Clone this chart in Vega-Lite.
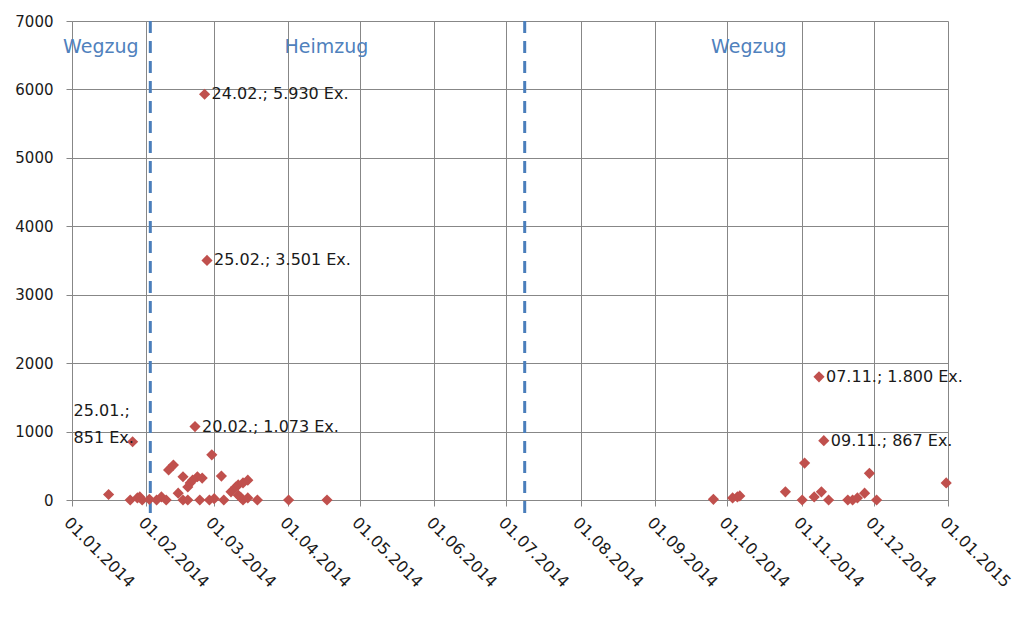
{
  "$schema": "https://vega.github.io/schema/vega-lite/v6.json",
  "width": 876,
  "height": 479,
  "autosize": {"type": "none"},
  "padding": {"left": 72, "top": 21, "right": 70, "bottom": 123},
  "background": "white",
  "config": {
    "view": {"stroke": null},
    "font": "DejaVu Sans",
    "axis": {
      "gridColor": "#878787",
      "gridOpacity": 1,
      "domainColor": "#878787",
      "tickColor": "#878787",
      "tickSize": 6,
      "labelColor": "#1a1a1a",
      "labelFont": "DejaVu Sans",
      "labelFontSize": 15,
      "title": null
    }
  },
  "datasets": {
    "counts": [
      {"date": "2014-01-15", "value": 80, "label": ""},
      {"date": "2014-01-24", "value": 0, "label": ""},
      {"date": "2014-01-25", "value": 851, "label": "25.01.;\n851 Ex."},
      {"date": "2014-01-27", "value": 30, "label": ""},
      {"date": "2014-01-28", "value": 45, "label": ""},
      {"date": "2014-01-29", "value": 0, "label": ""},
      {"date": "2014-02-01", "value": 10, "label": ""},
      {"date": "2014-02-04", "value": 0, "label": ""},
      {"date": "2014-02-06", "value": 45, "label": ""},
      {"date": "2014-02-08", "value": 0, "label": ""},
      {"date": "2014-02-09", "value": 440, "label": ""},
      {"date": "2014-02-11", "value": 510, "label": ""},
      {"date": "2014-02-13", "value": 100, "label": ""},
      {"date": "2014-02-15", "value": 0, "label": ""},
      {"date": "2014-02-15", "value": 340, "label": ""},
      {"date": "2014-02-17", "value": 190, "label": ""},
      {"date": "2014-02-17", "value": 0, "label": ""},
      {"date": "2014-02-18", "value": 250, "label": ""},
      {"date": "2014-02-19", "value": 290, "label": ""},
      {"date": "2014-02-20", "value": 1073, "label": "20.02.; 1.073 Ex."},
      {"date": "2014-02-21", "value": 340, "label": ""},
      {"date": "2014-02-22", "value": 0, "label": ""},
      {"date": "2014-02-23", "value": 320, "label": ""},
      {"date": "2014-02-24", "value": 5930, "label": "24.02.; 5.930 Ex."},
      {"date": "2014-02-25", "value": 3501, "label": "25.02.; 3.501 Ex."},
      {"date": "2014-02-26", "value": 0, "label": ""},
      {"date": "2014-02-27", "value": 660, "label": ""},
      {"date": "2014-02-28", "value": 20, "label": ""},
      {"date": "2014-03-03", "value": 350, "label": ""},
      {"date": "2014-03-04", "value": 0, "label": ""},
      {"date": "2014-03-07", "value": 120, "label": ""},
      {"date": "2014-03-09", "value": 190, "label": ""},
      {"date": "2014-03-10", "value": 70, "label": ""},
      {"date": "2014-03-10", "value": 220, "label": ""},
      {"date": "2014-03-11", "value": 40, "label": ""},
      {"date": "2014-03-12", "value": 250, "label": ""},
      {"date": "2014-03-12", "value": 0, "label": ""},
      {"date": "2014-03-14", "value": 290, "label": ""},
      {"date": "2014-03-14", "value": 30, "label": ""},
      {"date": "2014-03-18", "value": 0, "label": ""},
      {"date": "2014-03-31", "value": 0, "label": ""},
      {"date": "2014-04-16", "value": 0, "label": ""},
      {"date": "2014-09-24", "value": 10, "label": ""},
      {"date": "2014-10-02", "value": 30, "label": ""},
      {"date": "2014-10-04", "value": 45, "label": ""},
      {"date": "2014-10-05", "value": 60, "label": ""},
      {"date": "2014-10-24", "value": 120, "label": ""},
      {"date": "2014-10-31", "value": 0, "label": ""},
      {"date": "2014-11-01", "value": 540, "label": ""},
      {"date": "2014-11-05", "value": 45, "label": ""},
      {"date": "2014-11-07", "value": 1800, "label": "07.11.; 1.800 Ex."},
      {"date": "2014-11-08", "value": 120, "label": ""},
      {"date": "2014-11-09", "value": 867, "label": "09.11.; 867 Ex."},
      {"date": "2014-11-11", "value": 0, "label": ""},
      {"date": "2014-11-19", "value": 0, "label": ""},
      {"date": "2014-11-21", "value": 0, "label": ""},
      {"date": "2014-11-23", "value": 30, "label": ""},
      {"date": "2014-11-26", "value": 100, "label": ""},
      {"date": "2014-11-28", "value": 390, "label": ""},
      {"date": "2014-12-01", "value": 0, "label": ""},
      {"date": "2014-12-30", "value": 250, "label": ""}
    ],
    "phases": [
      {"date": "2014-01-13", "value": 6620, "label": "Wegzug"},
      {"date": "2014-04-17", "value": 6620, "label": "Heimzug"},
      {"date": "2014-10-10", "value": 6620, "label": "Wegzug"}
    ],
    "boundaries": [
      {"date": "2014-02-02"},
      {"date": "2014-07-08"}
    ]
  },
  "layer": [
    {
      "data": {"name": "boundaries"},
      "mark": {"type": "rule", "color": "#4A7EBB", "strokeWidth": 3, "strokeDash": [12, 8], "xOffset": 1.5},
      "encoding": {
        "x": {
          "field": "date",
          "type": "temporal",
          "scale": {
            "type": "utc",
            "domain": [
              {"year": 2014, "month": 1, "date": 1, "utc": true},
              {"year": 2015, "month": 1, "date": 1, "utc": true}
            ]
          },
          "axis": {
            "values": [
              {"year": 2014, "month": 1, "date": 1, "utc": true},
              {"year": 2014, "month": 2, "date": 1, "utc": true},
              {"year": 2014, "month": 3, "date": 1, "utc": true},
              {"year": 2014, "month": 4, "date": 1, "utc": true},
              {"year": 2014, "month": 5, "date": 1, "utc": true},
              {"year": 2014, "month": 6, "date": 1, "utc": true},
              {"year": 2014, "month": 7, "date": 1, "utc": true},
              {"year": 2014, "month": 8, "date": 1, "utc": true},
              {"year": 2014, "month": 9, "date": 1, "utc": true},
              {"year": 2014, "month": 10, "date": 1, "utc": true},
              {"year": 2014, "month": 11, "date": 1, "utc": true},
              {"year": 2014, "month": 12, "date": 1, "utc": true},
              {"year": 2015, "month": 1, "date": 1, "utc": true}
            ],
            "labelExpr": "utcFormat(datum.value, '%d.%m.%Y')",
            "labelAngle": 45,
            "labelAlign": "left",
            "labelBaseline": "top",
            "labelPadding": 8,
            "labelFontSize": 16,
            "labelOverlap": false,
            "labelBound": false,
            "grid": true
          }
        },
        "y": {
          "datum": 7000,
          "type": "quantitative",
          "scale": {"domain": [0, 7000], "nice": false},
          "axis": {
            "values": [0, 1000, 2000, 3000, 4000, 5000, 6000, 7000],
            "format": "d",
            "labelPadding": 13,
            "grid": true
          }
        },
        "y2": {"datum": -300}
      }
    },
    {
      "data": {"name": "counts"},
      "mark": {"type": "point", "shape": "diamond", "filled": true, "size": 125, "color": "#C0504D", "opacity": 1, "xOffset": 3},
      "encoding": {
        "x": {"field": "date", "type": "temporal"},
        "y": {"field": "value", "type": "quantitative"}
      }
    },
    {
      "data": {"name": "counts"},
      "transform": [{"filter": "datum.label != '' && datum.value != 851"}],
      "mark": {"type": "text", "align": "left", "baseline": "middle", "dx": 10, "fontSize": 16, "color": "#1a1a1a", "font": "DejaVu Sans"},
      "encoding": {
        "x": {"field": "date", "type": "temporal"},
        "y": {"field": "value", "type": "quantitative"},
        "text": {"field": "label"}
      }
    },
    {
      "data": {"name": "counts"},
      "transform": [{"filter": "datum.value == 851"}],
      "mark": {"type": "text", "align": "left", "baseline": "bottom", "dx": -56, "dy": -23, "lineBreak": "\n", "lineHeight": 27, "fontSize": 16, "color": "#1a1a1a", "font": "DejaVu Sans"},
      "encoding": {
        "x": {"field": "date", "type": "temporal"},
        "y": {"field": "value", "type": "quantitative"},
        "text": {"field": "label"}
      }
    },
    {
      "data": {"name": "phases"},
      "mark": {"type": "text", "align": "center", "baseline": "middle", "fontSize": 19, "color": "#4F81BD", "font": "DejaVu Sans"},
      "encoding": {
        "x": {"field": "date", "type": "temporal"},
        "y": {"field": "value", "type": "quantitative"},
        "text": {"field": "label"}
      }
    }
  ]
}
